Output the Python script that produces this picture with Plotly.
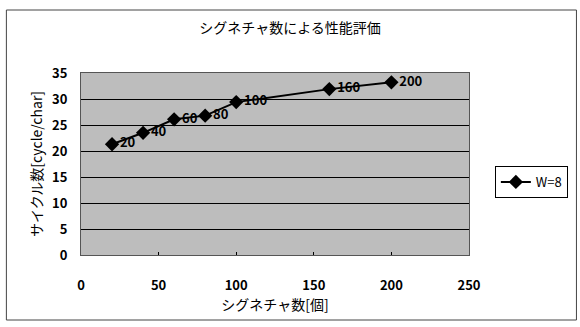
import plotly.graph_objects as go

signatures = [20, 40, 60, 80, 100, 160, 200]
cycles = [21.3, 23.5, 26.1, 26.8, 29.4, 31.9, 33.2]
labels = [str(s) for s in signatures]
series_name = "W=8"
title = "シグネチャ数による性能評価"
x_title = "シグネチャ数[個]"
y_title = "サイクル数[cycle/char]"

FONT = "Noto Sans CJK JP"

fig = go.Figure()
fig.add_trace(go.Scatter(
    x=signatures, y=cycles, mode="lines+markers+text",
    text=labels, textposition="middle right",
    textfont=dict(family=FONT, size=13, color="black", weight="bold"),
    line=dict(color="black", width=2),
    marker=dict(symbol="diamond", size=11, color="black"),
    name=series_name,
))

W, H = 580, 327
l, r, t, b = 81, 109, 73, 72
pw, ph = W - l - r, H - t - b

def px_x(x):
    return (x - l) / pw

def px_y(y):
    return (H - b - y) / ph

fig.add_shape(type="rect", xref="paper", yref="paper",
              x0=px_x(6), x1=px_x(579), y0=px_y(320), y1=px_y(10),
              line=dict(color="#444444", width=1), layer="below")

fig.update_layout(
    width=W, height=H,
    margin=dict(l=l, r=r, t=t, b=b),
    paper_bgcolor="white",
    plot_bgcolor="#bdbdbd",
    font=dict(family=FONT, size=12, color="black"),
    title=dict(text=title, x=0.5, xanchor="center", y=1 - 28 / H, yanchor="middle",
               font=dict(family=FONT, size=14, color="black")),
    showlegend=True,
    legend=dict(x=px_x(497), y=px_y(182), xanchor="left", yanchor="middle",
                bordercolor="black", borderwidth=1, bgcolor="white",
                itemwidth=30, tracegroupgap=0,
                font=dict(family=FONT, size=13)),
    xaxis=dict(range=[0, 250], tickvals=[0, 50, 100, 150, 200, 250],
               automargin=False,
               showgrid=False, zeroline=False, showline=True, linecolor="#555555",
               mirror=True, ticks="inside", ticklen=3, tickcolor="black",
               ticklabelstandoff=18,
               title=dict(text=x_title, font=dict(family=FONT, size=14), standoff=6),
               tickfont=dict(family=FONT, size=13, weight="bold")),
    yaxis=dict(range=[0, 35], tickvals=[0, 5, 10, 15, 20, 25, 30, 35],
               automargin=False,
               showgrid=True, gridcolor="black", gridwidth=1, zeroline=False,
               showline=True, linecolor="#555555", mirror=True, ticks="",
               ticklabelstandoff=10,
               title=dict(text=y_title, font=dict(family=FONT, size=14), standoff=6),
               tickfont=dict(family=FONT, size=13, weight="bold")),
)

fig.write_html("out.html",
               config={"displayModeBar": False},
               post_script="document.body.style.margin='0';document.body.style.overflow='hidden';")
